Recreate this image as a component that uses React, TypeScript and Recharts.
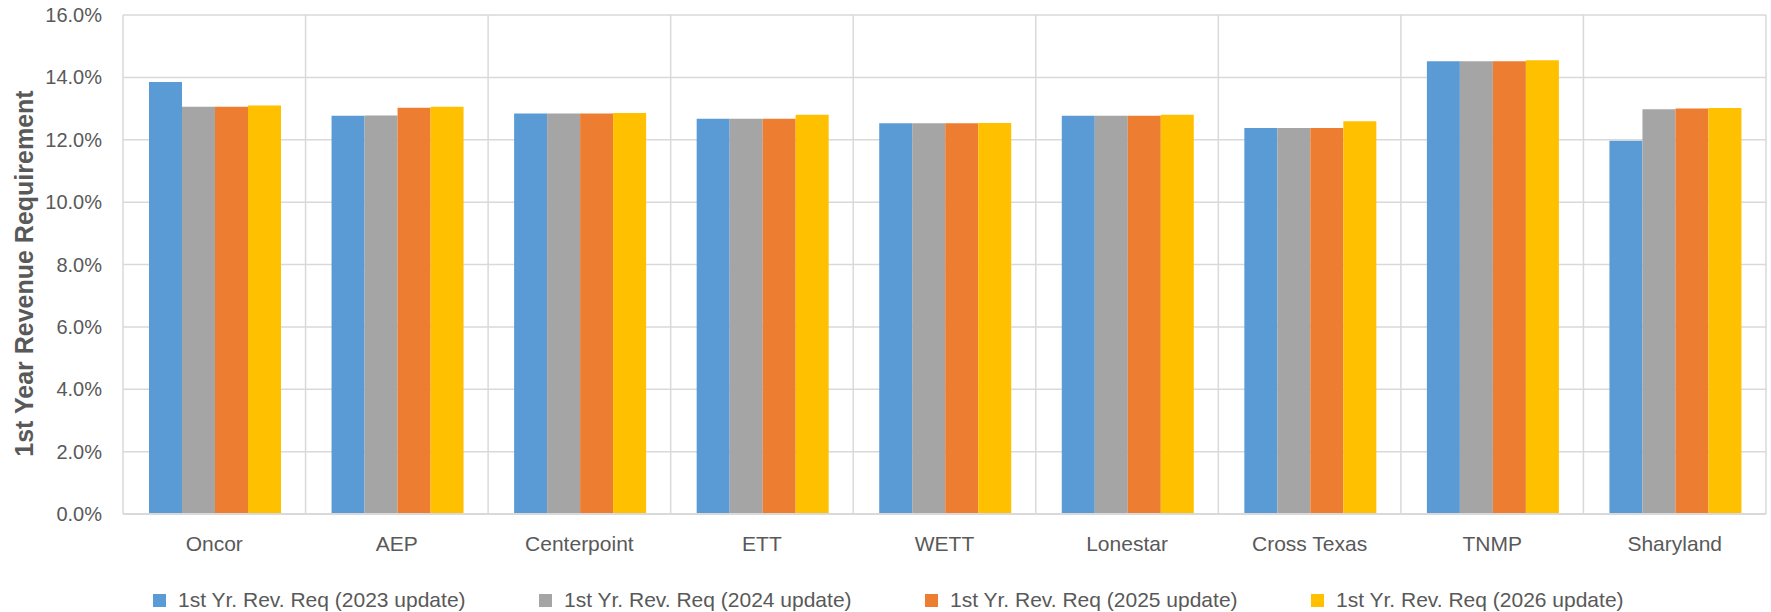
import React from "react";
import {
    BarChart,
    Bar,
    XAxis,
    YAxis,
    CartesianGrid,
    Legend,
} from "recharts";

const utilities = ["Oncor", "AEP", "Centerpoint", "ETT", "WETT", "Lonestar", "Cross Texas", "TNMP", "Sharyland"];
const req2023 = [13.85, 12.77, 12.84, 12.67, 12.53, 12.77, 12.38, 14.52, 11.97];
const req2024 = [13.06, 12.78, 12.84, 12.67, 12.53, 12.77, 12.38, 14.52, 12.98];
const req2025 = [13.06, 13.03, 12.84, 12.67, 12.53, 12.77, 12.38, 14.52, 13.0];
const req2026 = [13.1, 13.06, 12.86, 12.8, 12.54, 12.8, 12.59, 14.55, 13.02];
const yTicks = [0, 2, 4, 6, 8, 10, 12, 14, 16];

const seriesNames = [
    "1st Yr. Rev. Req (2023 update)",
    "1st Yr. Rev. Req (2024 update)",
    "1st Yr. Rev. Req (2025 update)",
    "1st Yr. Rev. Req (2026 update)",
];
const colors = ["#5B9BD5", "#A5A5A5", "#ED7D31", "#FFC000"];

const data = utilities.map((name, i) => ({
    name,
    s2023: req2023[i],
    s2024: req2024[i],
    s2025: req2025[i],
    s2026: req2026[i],
}));

const FONT = "'Liberation Sans', Arial, sans-serif";
const TEXT = "#595959";

// Excel-style legend: fixed pitch between entries
const LegendRow = () => (
    <div
        style={{
            display: "flex",
            alignItems: "center",
            fontFamily: FONT,
            fontSize: 21,
            color: TEXT,
            height: 38,
            marginTop: 7,
            paddingLeft: 153,
            whiteSpace: "nowrap",
        }}
    >
        {seriesNames.map((n, i) => (
            <div key={n} style={{ display: "flex", alignItems: "center", width: i < 3 ? 386 : "auto" }}>
                <span style={{ width: 13, height: 13, background: colors[i], marginRight: 12, display: "inline-block" }} />
                <span>{n}</span>
            </div>
        ))}
    </div>
);

const App: React.FC = () => {
    return (
        <div style={{ position: "absolute", left: 0, top: 0, width: 1771, height: 612, background: "#fff" }}>
            <BarChart
                width={1771}
                height={612}
                data={data}
                margin={{ top: 15, right: 5, left: 0, bottom: 0 }}
                barCategoryGap={26}
                barGap={0}
            >
                <CartesianGrid
                    stroke="#D9D9D9"
                    strokeWidth={1.5}
                    verticalCoordinatesGenerator={({ offset }: any) =>
                        utilities.map((_, i) => offset.left + (i * offset.width) / utilities.length).concat(offset.left + offset.width)
                    }
                />
                <XAxis
                    dataKey="name"
                    height={60}
                    tickLine={false}
                    axisLine={{ stroke: "#D9D9D9", strokeWidth: 2 }}
                    tickSize={0}
                    tickMargin={22}
                    tick={{ fill: TEXT, fontSize: 21, fontFamily: FONT }}
                    interval={0}
                />
                <YAxis
                    width={123}
                    domain={[0, 16]}
                    ticks={yTicks}
                    tickFormatter={(v: number) => `${v.toFixed(1)}%`}
                    axisLine={false}
                    tickLine={false}
                    tickSize={0}
                    tickMargin={21}
                    tick={{ fill: TEXT, fontSize: 20, fontFamily: FONT }}
                    label={{
                        value: "1st Year Revenue Requirement",
                        angle: -90,
                        position: "insideLeft",
                        offset: 0,
                        dx: 24,
                        dy: 9,
                        style: { textAnchor: "middle", fill: TEXT, fontSize: 25, fontWeight: 700, fontFamily: FONT },
                    }}
                />
                <Legend verticalAlign="bottom" height={38} content={() => <LegendRow />} />
                <Bar dataKey="s2023" name={seriesNames[0]} fill={colors[0]} isAnimationActive={false} />
                <Bar dataKey="s2024" name={seriesNames[1]} fill={colors[1]} isAnimationActive={false} />
                <Bar dataKey="s2025" name={seriesNames[2]} fill={colors[2]} isAnimationActive={false} />
                <Bar dataKey="s2026" name={seriesNames[3]} fill={colors[3]} isAnimationActive={false} />
            </BarChart>
        </div>
    );
};

export default App;
